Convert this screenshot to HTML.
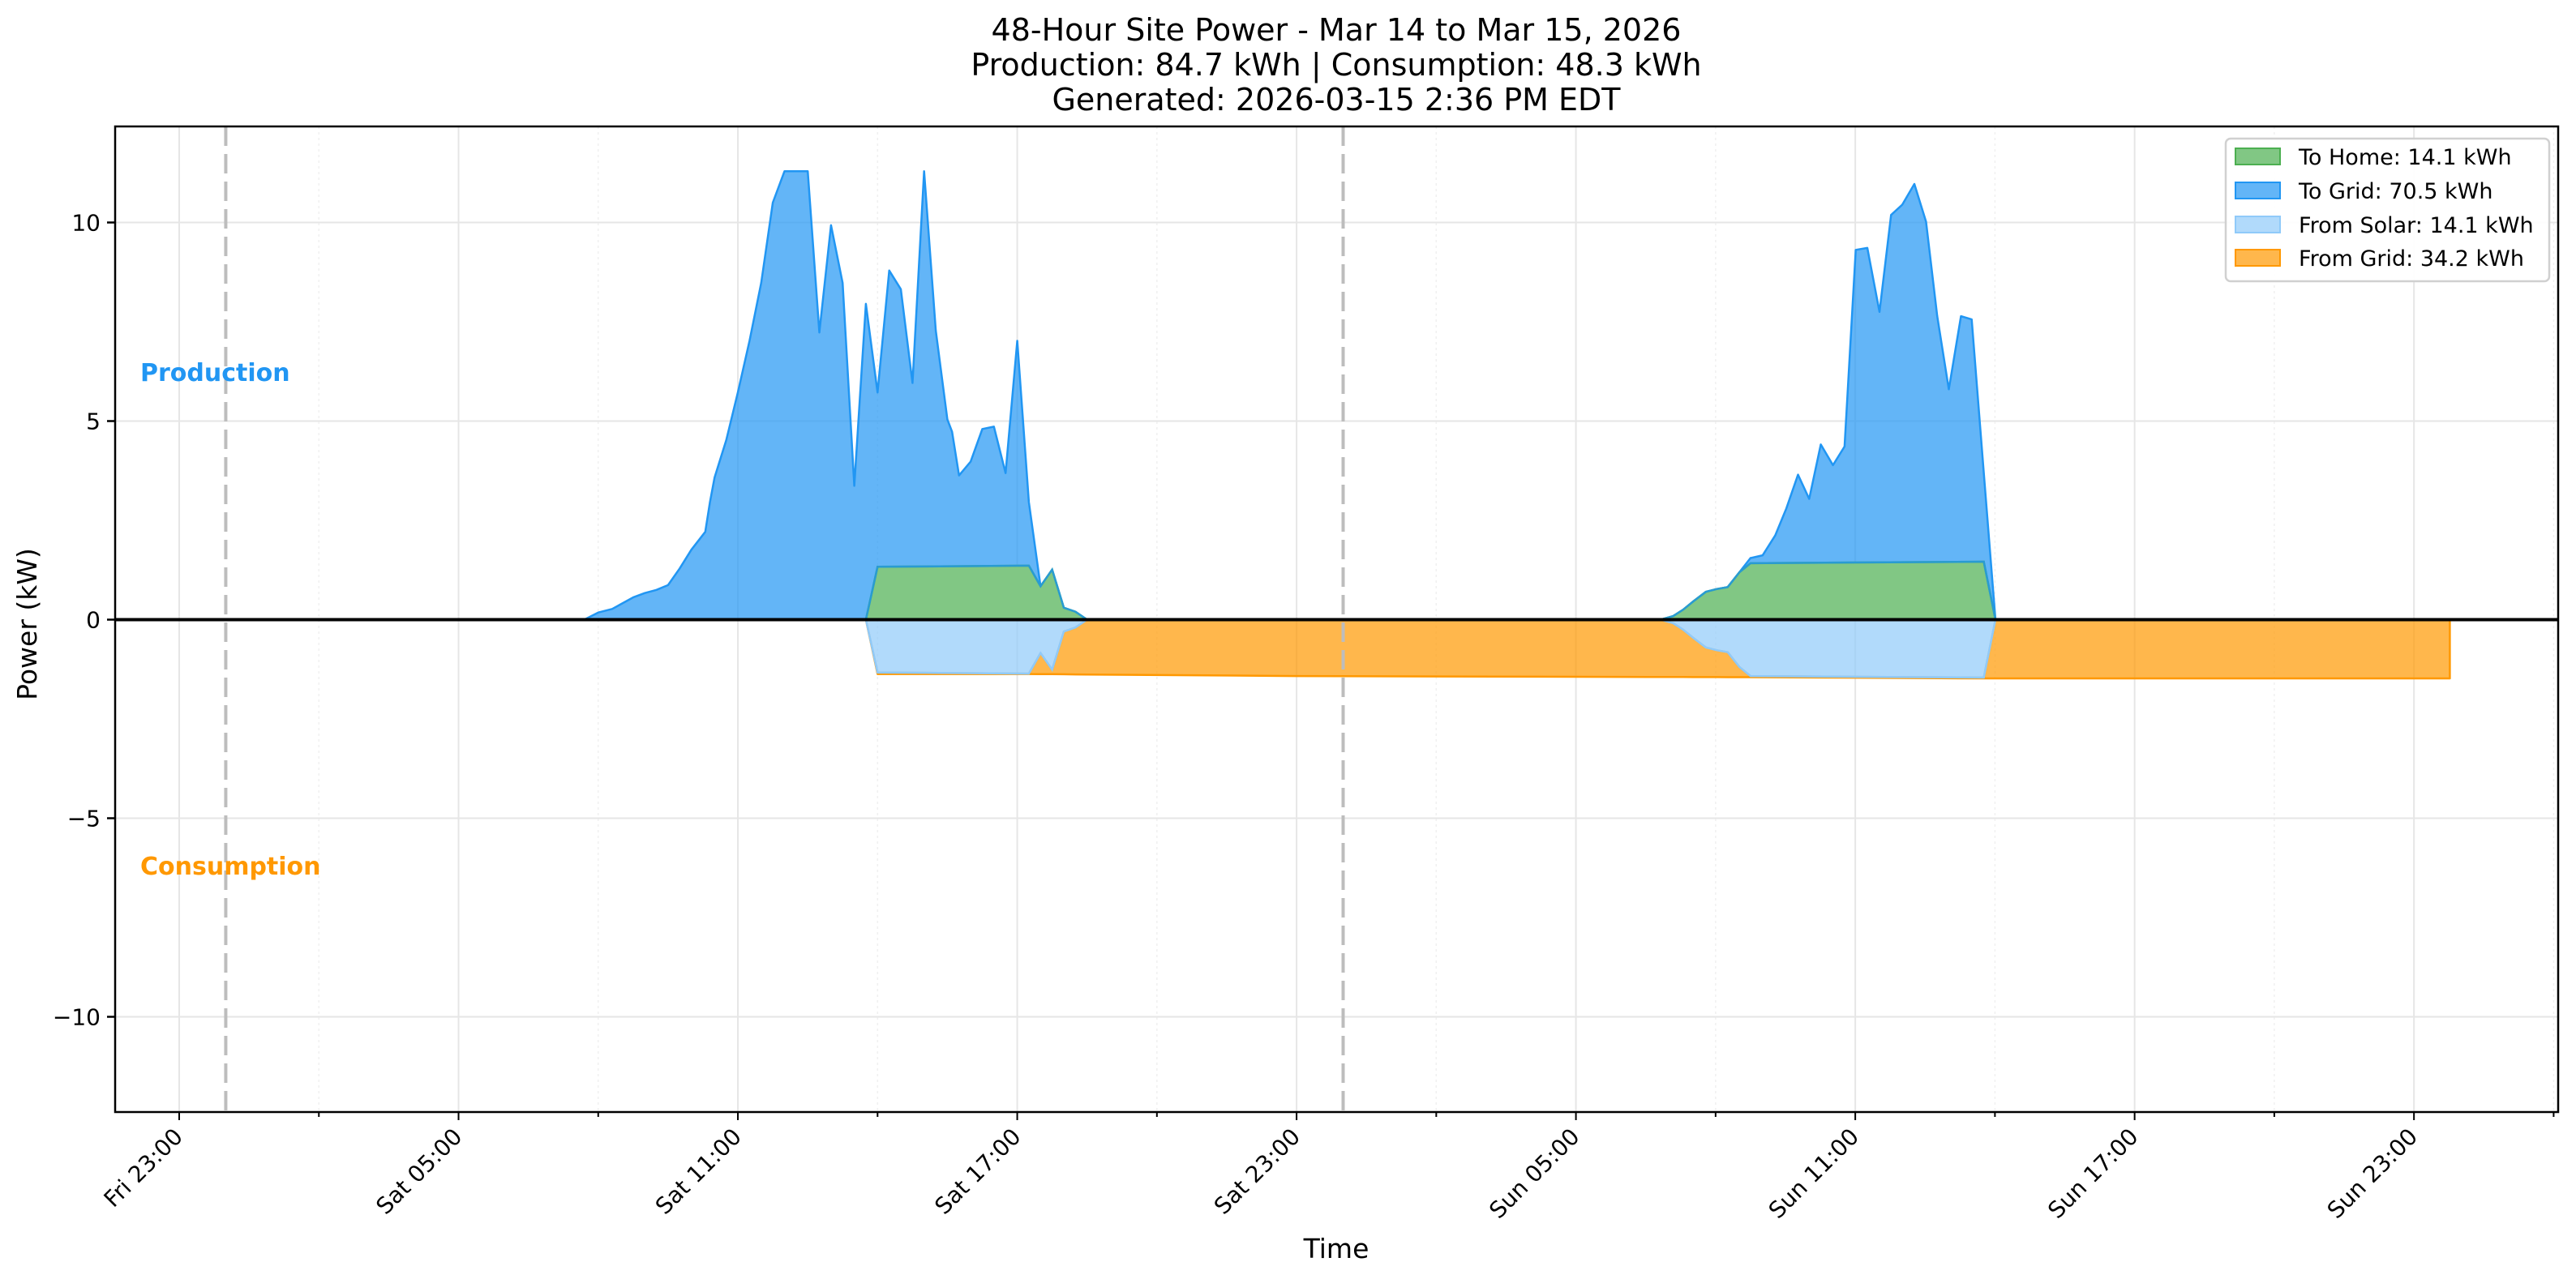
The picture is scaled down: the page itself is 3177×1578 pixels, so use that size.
<!DOCTYPE html>
<html><head><meta charset="utf-8">
<style>
html,body{margin:0;padding:0;background:#fff;}
svg{display:block;font-family:"DejaVu Sans","Liberation Sans",sans-serif;}
</style></head>
<body>
<svg id="chart" width="3177" height="1578" viewBox="0 0 3177 1578" xmlns="http://www.w3.org/2000/svg">
<rect width="3177" height="1578" fill="#fff"/>
<g font-size="38" text-anchor="middle" fill="#000">
<text x="1648" y="50">48-Hour Site Power - Mar 14 to Mar 15, 2026</text>
<text x="1648" y="93">Production: 84.7 kWh | Consumption: 48.3 kWh</text>
<text x="1648" y="136">Generated: 2026-03-15 2:36 PM EDT</text>
</g>
<g id="grid"></g>
<g id="series"></g>
<g id="overlay"></g>
<text x="173" y="470" font-size="30" font-weight="bold" fill="#2196F3">Production</text>
<text x="173" y="1079" font-size="30" font-weight="bold" fill="#FF9800">Consumption</text>
<text transform="translate(45,770) rotate(-90)" font-size="33" text-anchor="middle">Power (kW)</text>
<text x="1648" y="1552" font-size="33" text-anchor="middle">Time</text>
<g id="axes"></g>
<g>
<rect x="2745" y="171" width="399" height="176" rx="6" fill="#fff" fill-opacity="0.9" stroke="#d0d0d0" stroke-width="2.5"/>
<g><rect x="2757" y="183" width="55" height="20" fill="#4CAF50" fill-opacity="0.7" stroke="#4CAF50" stroke-width="2"/><text x="2835" y="203" font-size="27">To Home: 14.1 kWh</text></g>
<g><rect x="2757" y="225" width="55" height="20" fill="#2196F3" fill-opacity="0.7" stroke="#2196F3" stroke-width="2"/><text x="2835" y="245" font-size="27">To Grid: 70.5 kWh</text></g>
<g><rect x="2757" y="267" width="55" height="20" fill="#90CAF9" fill-opacity="0.7" stroke="#90CAF9" stroke-width="2"/><text x="2835" y="287" font-size="27">From Solar: 14.1 kWh</text></g>
<g><rect x="2757" y="308" width="55" height="20" fill="#FF9800" fill-opacity="0.7" stroke="#FF9800" stroke-width="2"/><text x="2835" y="328" font-size="27">From Grid: 34.2 kWh</text></g>
</g>
</svg>
<script>
// hours since Fri 23:00
const prodTimes = [8.7,9.0,9.3,9.75,10.0,10.25,10.5,10.75,11.0,11.3,11.4,11.5,11.75,12.0,12.25,12.5,12.75,13.0,13.5,13.75,14.0,14.25,14.5,14.75,15.0,15.25,15.5,15.75,16.0,16.25,16.5,16.6,16.75,17.0,17.25,17.5,17.75,18.0,18.25,18.5,18.75,19.0,19.25,19.5,
31.82,32.09,32.30,32.52,32.79,33.02,33.26,33.51,33.75,34.01,34.28,34.52,34.77,35.01,35.26,35.52,35.77,36.01,36.26,36.52,36.77,37.01,37.27,37.52,37.76,38.01,38.27,38.50,38.76,39.01];
const prodValues = [0,0.18,0.27,0.56,0.67,0.75,0.87,1.29,1.76,2.21,2.96,3.58,4.52,5.72,7.02,8.48,10.5,11.29,11.29,7.23,9.93,8.48,3.37,7.95,5.72,8.79,8.32,5.96,11.29,7.28,5.04,4.73,3.63,3.98,4.8,4.86,3.69,7.02,2.96,0.84,1.26,0.30,0.2,0,
0,0.09,0.25,0.46,0.70,0.77,0.82,1.19,1.55,1.62,2.12,2.80,3.65,3.04,4.41,3.89,4.36,9.31,9.36,7.75,10.19,10.45,10.97,10.02,7.64,5.80,7.64,7.56,3.7,0];
const homeTimes = [14.75,15.0,18.25,18.5,18.75,19.0,19.25,19.5,31.82,32.09,32.30,32.52,32.79,33.02,33.26,33.51,33.75,38.76,39.01];
const homeValues = [0,1.33,1.36,0.84,1.26,0.30,0.2,0,0,0.09,0.25,0.46,0.70,0.77,0.82,1.19,1.42,1.46,0];
const consTimes = [14.75,15.0,18.25,24.0,33.75,38.76,48.77];
const consValues = [0,1.37,1.37,1.42,1.45,1.48,1.48];
const yTicks = [10,5,0,-5,-10];
const yTickLabels = ["10","5","0","\u22125","\u221210"];
const xTickHours = [0,6,12,18,24,30,36,42,48];
const xTickLabels = ["Fri 23:00","Sat 05:00","Sat 11:00","Sat 17:00","Sat 23:00","Sun 05:00","Sun 11:00","Sun 17:00","Sun 23:00"];
const midnights = [1,25];

const NS="http://www.w3.org/2000/svg";
const L=142,R=3155,T=156,B=1372;
const X=h=>221+h*57.42;
const Y=v=>764.5-v*49.0;
function mk(tag,attrs,parent){const e=document.createElementNS(NS,tag);for(const k in attrs)e.setAttribute(k,attrs[k]);parent.appendChild(e);return e;}
function interp(ts,vs,t){if(t<=ts[0]||t>=ts[ts.length-1]){if(t===ts[0])return vs[0];if(t===ts[ts.length-1])return vs[vs.length-1];return 0;}
 for(let i=1;i<ts.length;i++){if(t<=ts[i]){const f=(t-ts[i-1])/(ts[i]-ts[i-1]);return vs[i-1]+f*(vs[i]-vs[i-1]);}}return 0;}
const grid=document.getElementById('grid'),series=document.getElementById('series'),overlay=document.getElementById('overlay'),axes=document.getElementById('axes');
for(let h=-3;h<=54;h+=3){const x=X(h);if(x<L||x>R)continue;const major=(h%6===0);
 const g=mk('line',{x1:x,x2:x,y1:T,y2:B,stroke:major?'#e6e6e6':'#f0f0f0','stroke-width':major?2:1.5,'stroke-dasharray':major?'':'3 4'},grid);
 
 }
yTicks.forEach(v=>{const g=mk('line',{x1:L,x2:R,y1:Y(v),y2:Y(v),stroke:'#e6e6e6','stroke-width':2},grid);
 
 });
function areaPath(ts,top,bot){let d='';for(let i=0;i<ts.length;i++)d+=(i?'L':'M')+X(ts[i]).toFixed(1)+','+Y(top[i]).toFixed(1);
 for(let i=ts.length-1;i>=0;i--)d+='L'+X(ts[i]).toFixed(1)+','+Y(bot[i]).toFixed(1);return d+'Z';}
function linePath(ts,vs){let d='';for(let i=0;i<ts.length;i++)d+=(i?'L':'M')+X(ts[i]).toFixed(1)+','+Y(vs[i]).toFixed(1);return d;}
const uni=[...new Set(homeTimes.concat(consTimes))].filter(t=>t>=consTimes[0]&&t<=consTimes[consTimes.length-1]).sort((a,b)=>a-b);
const oTop=uni.map(t=>-interp(homeTimes,homeValues,t));
const oBot=uni.map(t=>-interp(consTimes,consValues,t));
const fg=mk('path',{d:areaPath(uni,oTop,oBot),fill:'#FF9800','fill-opacity':0.7,stroke:'#FF9800','stroke-width':2.5,'stroke-linejoin':'round'},series);


const fs=mk('path',{d:areaPath(homeTimes,homeValues.map(v=>0),homeValues.map(v=>-v)),fill:'#90CAF9','fill-opacity':0.7,stroke:'#90CAF9','stroke-width':2.5},series);


const tg=mk('path',{d:areaPath(prodTimes,prodValues,prodValues.map(v=>0)),fill:'#2196F3','fill-opacity':0.7,stroke:'#2196F3','stroke-width':2.5,'stroke-linejoin':'round'},series);


const th=mk('path',{d:areaPath(homeTimes,homeValues,homeValues.map(v=>0)),fill:'#81c784',stroke:'#4CAF50','stroke-width':2.5},series);


const thl=mk('path',{d:linePath(homeTimes,homeValues),fill:'none',stroke:'#2196F3','stroke-width':2.5,'stroke-opacity':0.8},series);


midnights.forEach(h=>{const m=mk('line',{x1:X(h),x2:X(h),y1:T,y2:B,stroke:'#bdbdbd','stroke-width':4,'stroke-dasharray':'24 10'},overlay);
 
 });
const z=mk('line',{x1:L,x2:R,y1:Y(0),y2:Y(0),stroke:'#000','stroke-width':4},overlay);


const fr=mk('rect',{x:L,y:T,width:R-L,height:B-T,fill:'none',stroke:'#000','stroke-width':2.5},axes);


yTicks.forEach((v,i)=>{mk('line',{x1:L-10,x2:L,y1:Y(v),y2:Y(v),stroke:'#000','stroke-width':2.5},axes);
 const t=mk('text',{x:L-18,y:Y(v)+10,'font-size':28,'text-anchor':'end'},axes);t.textContent=yTickLabels[i];
 
 });
for(let h=-3;h<=54;h+=3){const x=X(h);if(x<L-1||x>R+1)continue;const major=(h%6===0);
 mk('line',{x1:x,x2:x,y1:B,y2:B+(major?10:6),stroke:'#000','stroke-width':2},axes);}
xTickHours.forEach((h,i)=>{const x=X(h);
 const t=mk('text',{x:0,y:0,'font-size':28,'text-anchor':'end',transform:`translate(${x+6},${B+32}) rotate(-45)`},axes);
 t.textContent=xTickLabels[i];
 
 });
</script>
</body></html>
